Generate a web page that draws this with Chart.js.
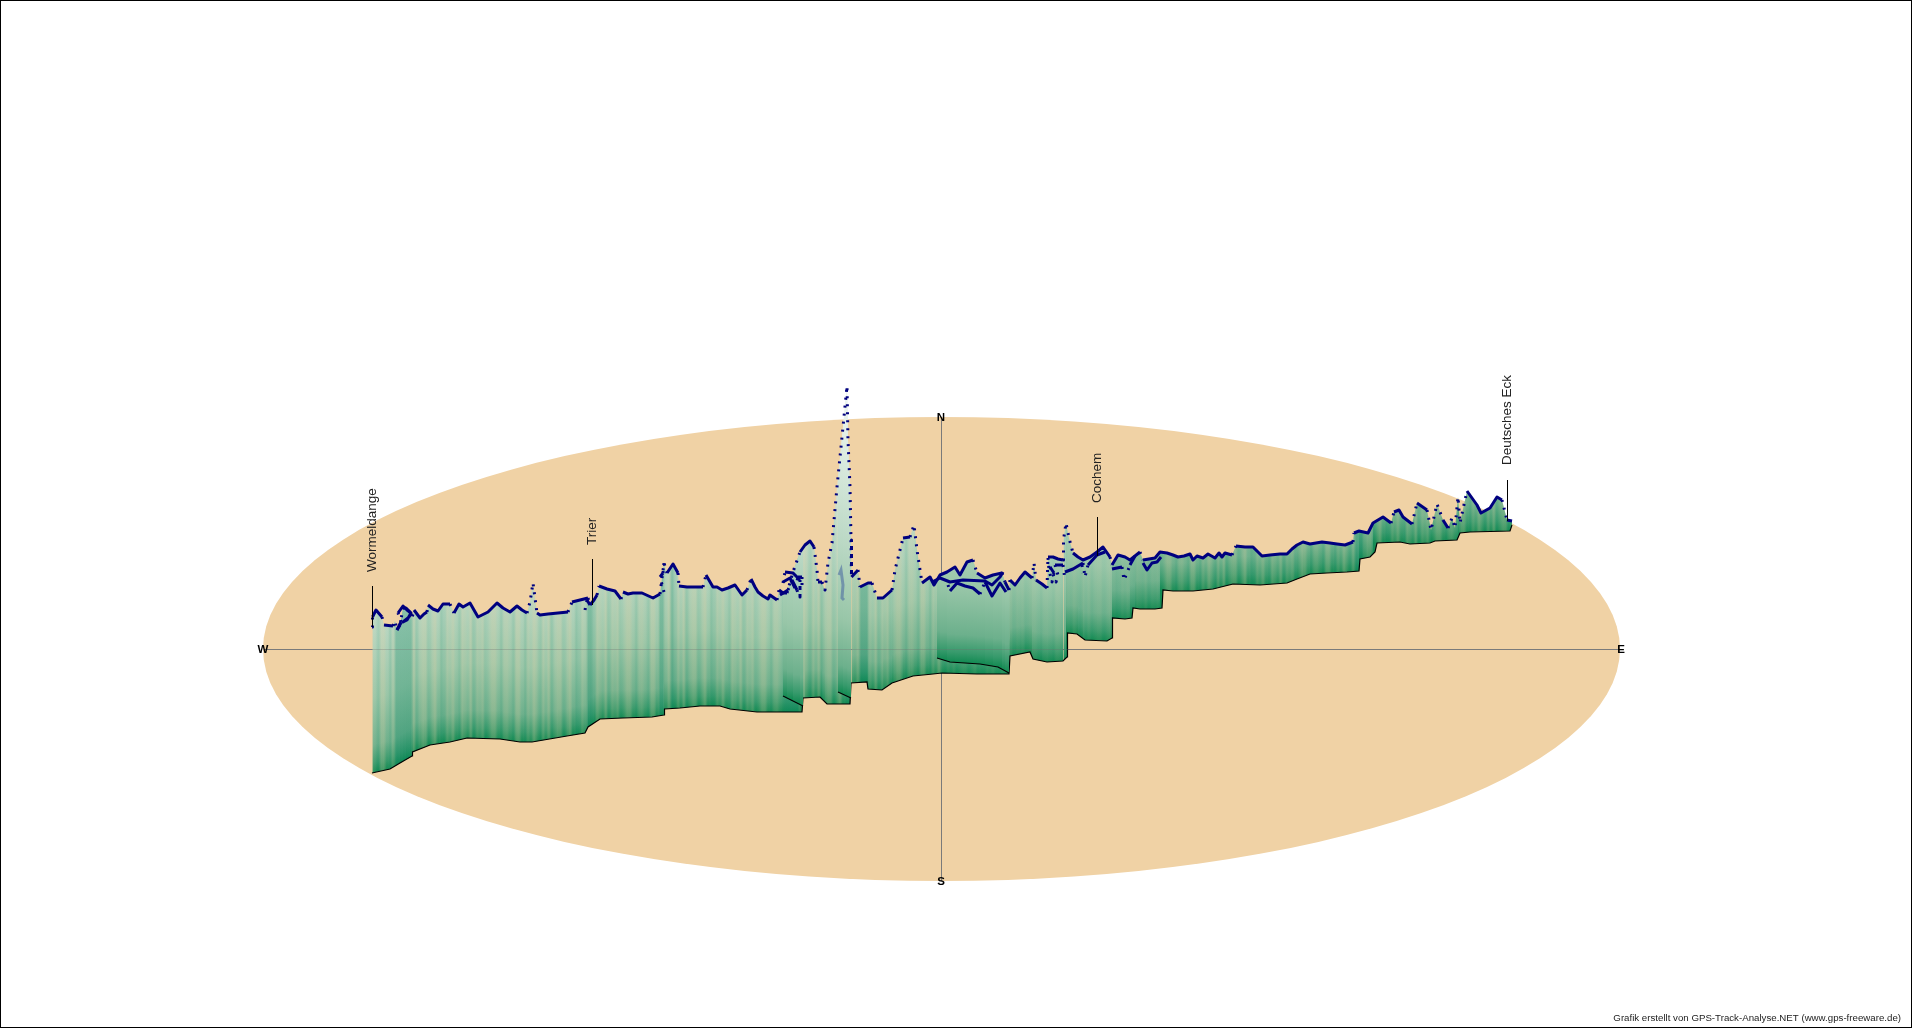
<!DOCTYPE html>
<html>
<head>
<meta charset="utf-8">
<title>GPS-Track-Analyse</title>
<script src="https://cdn.jsdelivr.net/npm/chart.js@4"></script>
<style>
  html, body { margin: 0; background: #fff; }
  canvas { display: block; }
</style>
</head>
<body>
<canvas id="trackChart" width="1912" height="1028"></canvas>
<script>
const mainTop = [[372,627],[372.5,617],[376,610],[382,617],[384,625],[393,626],[395,621],[397,630],[400,625],[403,608],[406,608],[410,612],[412,618],[414,610],[420,618],[424,614],[427,612],[428,605],[433,609],[438,611],[443,604],[450,604],[454,613],[459,604],[463,607],[470,603],[474,610],[478,617],[488,612],[497,603],[503,608],[510,612],[517,606],[522,610],[527,613],[530,602],[533,583],[535,598],[537,613],[540,615],[548,614],[558,613],[568,612],[572,602],[580,600],[588,598],[590,605],[594,600],[597,595],[599,586],[607,589],[615,591],[621,599],[623,592],[628,594],[633,593],[642,593],[653,598],[660,594],[662,578],[664,563],[667,573],[673,564],[678,573],[679,586],[687,587],[695,587],[703,587],[706,575],[713,587],[717,587],[722,590],[728,588],[735,585],[742,595],[747,590],[751,579],[755,587],[758,592],[763,596],[768,599],[770,595],[777,600],[779,590],[783,593],[787,593],[793,572],[800,552],[805,545],[810,541],[814,547],[817,570],[818,582],[822,582],[825,590],[828,563],[832,543],[837,487],[843,427],[847,386],[848,440],[850,487],[851,540],[851.5,577],[858,570],[860,587],[868,583],[872,583],[877,598],[883,598],[892,590],[895,570],[903,538],[910,537],[914,525],[917,550],[922,583],[930,577],[934,585],[940,575],[947,572],[955,567],[960,575],[967,562],[973,560],[977,573],[985,578],[993,575],[1002,573],[1005,582],[1009,590],[1010,580],[1015,585],[1020,578],[1025,572],[1032,578],[1034,563],[1036,580],[1042,584],[1047,588],[1048,557],[1053,557],[1058,559],[1063,560],[1063.5,540],[1066,523],[1069,538],[1073,553],[1078,557],[1083,560],[1090,557],[1097,552],[1103,547],[1110,557],[1112,565],[1118,555],[1125,557],[1130,560],[1135,556],[1140,552],[1143,560],[1149,559],[1155,558],[1160,552],[1167,553],[1173,555],[1178,557],[1184,556],[1190,554],[1193,560],[1197,556],[1203,558],[1208,554],[1215,558],[1219,553],[1222,557],[1225,553],[1232,555],[1236,546],[1245,547],[1253,547],[1258,552],[1262,556],[1270,555],[1280,554],[1287,554],[1292,549],[1297,545],[1303,542],[1310,544],[1316,543],[1322,542],[1330,543],[1337,544],[1345,545],[1353,542],[1354,533],[1359,531],[1368,533],[1373,523],[1383,517],[1391,523],[1394,512],[1399,510],[1403,517],[1412,524],[1417,503],[1427,510],[1431,530],[1437,504],[1443,520],[1448,528],[1452,518],[1455,528],[1458,497],[1460,523],[1467,491],[1477,505],[1481,513],[1490,508],[1497,497],[1502,500],[1507,520],[1512,521]];
const mainBase = [[372,773],[390,769],[400,763],[412,756],[412.5,752],[430,745],[450,742],[467,738],[500,739],[520,742],[532,742],[567,736],[585,733],[588,727],[600,719],[623,718],[652,717],[664,715],[664.5,709],[680,708],[700,706],[720,706],[730,709],[757,712],[787,712],[802,712],[803,698],[820,697],[827,704],[850,704],[851,683],[867,682],[868,689],[882,690],[892,683],[895,682],[913,676],[933,674],[942,673],[977,674],[1009,674],[1010,656],[1030,652],[1033,659],[1047,662],[1063,661],[1067,657],[1067.5,633],[1077,634],[1085,640],[1107,641],[1112,638],[1112.5,618],[1125,619],[1132,618],[1133,608],[1140,609],[1155,609],[1162,608],[1163,590],[1173,591],[1193,591],[1213,589],[1233,584],[1260,585],[1287,583],[1297,579],[1310,574],[1327,573],[1347,572],[1359,571],[1360,559],[1370,557],[1375,552],[1377,543],[1400,542],[1410,544],[1430,543],[1435,541],[1457,540],[1460,533],[1470,532],[1510,531],[1512,525]];

// stretches where the route doubles back and hangs in front of the main curtain
const innerTops = [
  [[783,593],[787,593],[793,572],[800,552],[803,547]],
  [[838,480],[843,427],[847,386],[848,440],[850,487],[851,540]],
  [[937,580],[940,575],[947,572],[955,567],[960,575],[967,562],[973,560],[977,573],[985,578],[993,575],[1002,573],[1005,582],[1009,590]]
];
const innerBases = [
  [[783,696],[803,706]],
  [[838,692],[851,698]],
  [[937,658],[950,662],[980,664],[998,667],[1009,673]]
];

// track loops that are not part of the upper outline
const branchTracks = [
  [[397,630],[401,622],[398,613],[403,606],[407,610],[411,613],[407,620],[403,622],[408,618],[412,613]],
  [[585,610],[587,600],[590,605]],
  [[664,592],[660,577],[663,573],[664,563]],
  [[783,583],[785,572],[793,573],[800,580],[800,597]],
  [[783,582],[790,578],[795,588],[798,577],[802,577],[802,585]],
  [[780,595],[788,590],[792,580],[797,590],[799,597]],
  [[932,582],[940,578],[950,582],[963,580],[985,581],[992,585],[1000,577],[1003,572]],
  [[948,585],[950,591],[957,583],[965,586],[973,588],[980,594],[985,582],[992,596],[1000,583],[1006,592]],
  [[1048,558],[1049,570],[1052,582],[1054,573],[1050,567],[1056,582],[1058,575],[1055,565],[1063,565],[1065,580]],
  [[1065,572],[1073,569],[1083,563],[1085,577],[1088,565],[1097,555],[1105,552]],
  [[1082,565],[1083,573]],
  [[1112,569],[1122,567],[1124,580],[1127,573],[1130,565],[1135,556]],
  [[1143,563],[1147,570],[1152,563],[1157,562],[1161,557]]
];
const fadedTrack = [[839,575],[841,570],[843,585],[842,598],[844,600]];

const placeNames = ['Wormeldange', 'Trier', 'Cochem', 'Deutsches Eck'];
const placeX = [372, 592, 1097, 1507];
const placeTickTop = [586, 559, 517, 480];
const placeTickBottom = [627, 605, 556, 521];
const placeTextBottom = [572, 545, 503, 465];

const compassLabels = ['N', 'S', 'W', 'E'];
const compassX = [941, 941, 263, 1621];
const compassY = [418, 882, 650, 650];

// hand-read shade of the fine vertical stripes, negative is greener, positive more sand
const stripeTones = [0.18,0.06,-0.1,0.22,0.24,0,-0.14,0.16,0.05,0.28,0.12,-0.08,0.2,0.03,0.26,-0.12,0.1,0.22,0.2,-0.05,0.12,0.28,0,-0.15,-0.06,0.18,0.09,0.25,0.02,-0.1,0.22,0.14,0.04,0.26,-0.08,0.16,0.1,0.2,-0.04,0.08,0.24,0.24,0.03,-0.12,0.14];
// darker teal bands where the route runs over itself
const darkBands = [[396,412],[586,592],[660,665],[672,674],[786,800],[860,868],[1355,1362]];
const quietStripes = [[940,1160]];

// colour of the curtain by height above its foot
const heightStops = [[0,'#128a52'],[10,'#379a6c'],[28,'#6cb08c'],[75,'#98c6a8'],[150,'#bad8c4'],[240,'#dcebe0'],[330,'#fbfdfb']];
const gradientSpan = 330;

const sand = '#f0d2a5';
const axisGrey = '#7a7a7a';
const trackBlue = '#00007f';

const points = pairs => pairs.map(([x, y]) => ({ x, y }));
const inBands = (bands, v) => bands.some(([a, b]) => v >= a && v <= b);

function baseAt(base, x) {
  for (let i = 1; i < base.length; i++) {
    if (x <= base[i][0]) {
      const [x0, y0] = base[i - 1];
      const [x1, y1] = base[i];
      return y0 + (y1 - y0) * (x - x0) / (x1 - x0);
    }
  }
  return base[base.length - 1][1];
}

function curtainFill(base) {
  return ctx => {
    const { chart, p0, p1 } = ctx;
    const foot = chart.scales.y.getPixelForValue(baseAt(base, (p0.parsed.x + p1.parsed.x) / 2));
    if (!Number.isFinite(foot)) return 'transparent';
    const g = chart.ctx.createLinearGradient(0, foot, 0, foot - gradientSpan);
    heightStops.forEach(([h, c]) => g.addColorStop(h / gradientSpan, c));
    return g;
  };
}

function stripeFill(chart) {
  if (!chart.chartArea) return 'transparent';
  const x = chart.scales.x;
  const from = x.getPixelForValue(372), to = x.getPixelForValue(1512);
  if (!Number.isFinite(from) || !Number.isFinite(to)) return 'transparent';
  const g = chart.ctx.createLinearGradient(from, 0, to, 0);
  const step = 3;
  const count = Math.floor((to - from) / step);
  for (let i = 0; i <= count; i++) {
    const at = 372 + i * step;
    let t = stripeTones[i % stripeTones.length];
    if (inBands(quietStripes, at)) t *= 0.35;
    if (inBands(darkBands, at)) t = -0.28;
    const c = t >= 0 ? `rgba(240,210,165,${t})` : `rgba(10,134,100,${-t})`;
    g.addColorStop(i / count, c);
  }
  return g;
}

const steepDash = ctx => {
  const dx = Math.abs(ctx.p1.x - ctx.p0.x), dy = Math.abs(ctx.p1.y - ctx.p0.y);
  return dy > dx * 2.2 ? [2, 6] : undefined;
};

const datasets = [];
let order = 1000;

// foot line and curtain, back to front
function addCurtain(top, base, striped) {
  const baseIndex = datasets.length + 1;
  datasets.push({ data: points(top), fill: '+1', borderWidth: 0, pointRadius: 0, order: order--,
    backgroundColor: 'transparent', segment: { backgroundColor: curtainFill(base) } });
  datasets.push({ data: points(base), fill: false, borderWidth: 1.2, borderColor: '#000', pointRadius: 0, order: order - 1 });
  if (striped) {
    datasets.push({ data: points(top), fill: { target: baseIndex }, borderWidth: 0, pointRadius: 0, order: order--,
      backgroundColor: ctx => stripeFill(ctx.chart) });
  }
  order -= 2;
}

addCurtain(mainTop, mainBase, true);
innerTops.forEach((t, i) => addCurtain(t, innerBases[i], false));

datasets.push({ data: points(fadedTrack), borderColor: 'rgba(70,100,160,0.55)', borderWidth: 3, pointRadius: 0, fill: false, order: 3 });
branchTracks.forEach(b => datasets.push({ data: points(b), borderColor: trackBlue, borderWidth: 3, pointRadius: 0, fill: false, order: 2,
  borderJoinStyle: 'round', segment: { borderDash: steepDash } }));
datasets.push({ data: points(mainTop), borderColor: trackBlue, borderWidth: 3, pointRadius: 0, fill: false, order: 1,
  borderJoinStyle: 'round', segment: { borderDash: steepDash } });

const mapPlugin = {
  id: 'mapPlugin',
  beforeDatasetsDraw(chart) {
    const { ctx, scales: { x, y } } = chart;
    const cx = x.getPixelForValue(941.5), cy = y.getPixelForValue(649);
    ctx.save();
    ctx.fillStyle = sand;
    ctx.beginPath();
    ctx.ellipse(cx, cy, x.getPixelForValue(1620) - cx, y.getPixelForValue(881) - cy, 0, 0, Math.PI * 2);
    ctx.fill();
    ctx.strokeStyle = axisGrey;
    ctx.lineWidth = 1;
    ctx.beginPath();
    ctx.moveTo(x.getPixelForValue(264), cy + 0.5);
    ctx.lineTo(x.getPixelForValue(1620), cy + 0.5);
    ctx.moveTo(x.getPixelForValue(941) + 0.5, y.getPixelForValue(417));
    ctx.lineTo(x.getPixelForValue(941) + 0.5, y.getPixelForValue(881));
    ctx.stroke();
    ctx.restore();
  },
  afterDatasetsDraw(chart) {
    const { ctx, scales: { x, y } } = chart;
    ctx.save();
    // east-west line shows faintly through the curtain
    ctx.strokeStyle = 'rgba(110,110,110,0.3)';
    ctx.lineWidth = 1;
    ctx.beginPath();
    ctx.moveTo(x.getPixelForValue(372), y.getPixelForValue(649) + 0.5);
    ctx.lineTo(x.getPixelForValue(1070), y.getPixelForValue(649) + 0.5);
    ctx.stroke();

    ctx.strokeStyle = '#000';
    placeNames.forEach((name, i) => {
      const px = Math.round(x.getPixelForValue(placeX[i])) + 0.5;
      ctx.beginPath();
      ctx.moveTo(px, y.getPixelForValue(placeTickTop[i]));
      ctx.lineTo(px, y.getPixelForValue(placeTickBottom[i]));
      ctx.stroke();
      ctx.save();
      ctx.translate(px, y.getPixelForValue(placeTextBottom[i]));
      ctx.rotate(-Math.PI / 2);
      ctx.font = '13.5px "Liberation Sans"';
      ctx.fillStyle = '#222';
      ctx.textAlign = 'left';
      ctx.textBaseline = 'middle';
      ctx.fillText(name, 0, 0);
      ctx.restore();
    });

    ctx.font = 'bold 11.5px "Liberation Sans"';
    ctx.fillStyle = '#000';
    ctx.textAlign = 'center';
    ctx.textBaseline = 'middle';
    compassLabels.forEach((l, i) => ctx.fillText(l, x.getPixelForValue(compassX[i]), y.getPixelForValue(compassY[i])));

    ctx.font = '9.7px "Liberation Sans"';
    ctx.fillStyle = '#222';
    ctx.textAlign = 'right';
    ctx.fillText('Grafik erstellt von GPS-Track-Analyse.NET (www.gps-freeware.de)', x.getPixelForValue(1901), y.getPixelForValue(1018));

    ctx.strokeStyle = '#000';
    ctx.strokeRect(0.5, 0.5, chart.width - 1, chart.height - 1);
    ctx.restore();
  }
};

new Chart(document.getElementById('trackChart'), {
  type: 'line',
  data: { datasets },
  plugins: [mapPlugin],
  options: {
    responsive: false,
    animation: false,
    events: [],
    layout: { padding: 0 },
    plugins: { legend: { display: false }, tooltip: { enabled: false } },
    scales: {
      x: { type: 'linear', min: 0, max: 1912, display: false },
      y: { type: 'linear', min: 0, max: 1028, reverse: true, display: false }
    }
  }
});
</script>
</body>
</html>
